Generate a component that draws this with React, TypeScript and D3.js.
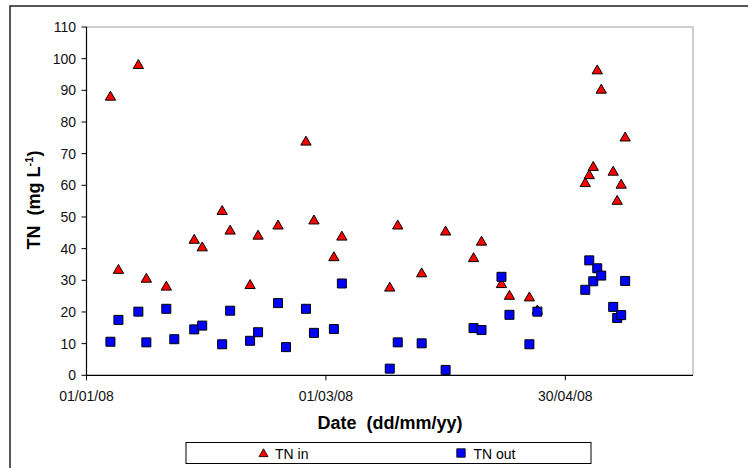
import React from "react";
import * as d3 from "d3";

// ---- data ----
const tnInDates = [
  "2008-01-07", "2008-01-09", "2008-01-14", "2008-01-16", "2008-01-21",
  "2008-01-28", "2008-01-30", "2008-02-04", "2008-02-06", "2008-02-11",
  "2008-02-13", "2008-02-18", "2008-02-25", "2008-02-27", "2008-03-03",
  "2008-03-05", "2008-03-17", "2008-03-19", "2008-03-25", "2008-03-31",
  "2008-04-07", "2008-04-09", "2008-04-14", "2008-04-16", "2008-04-21",
  "2008-04-23", "2008-05-05", "2008-05-06", "2008-05-07", "2008-05-08",
  "2008-05-09", "2008-05-12", "2008-05-13", "2008-05-14", "2008-05-15",
];
const tnInValues = [
  88, 33.3, 98, 30.5, 28,
  42.8, 40.4, 51.9, 45.7, 28.5,
  44.1, 47.3, 73.8, 48.9, 37.3,
  43.8, 27.7, 47.3, 32.2, 45.4,
  37.0, 42.2, 28.8, 25.1, 24.6,
  20.5, 60.7, 63.2, 65.8, 96.3,
  90.2, 64.3, 55.1, 60.2, 75.1,
];

const tnOutDates = [
  "2008-01-07", "2008-01-09", "2008-01-14", "2008-01-16", "2008-01-21",
  "2008-01-23", "2008-01-28", "2008-01-30", "2008-02-04", "2008-02-06",
  "2008-02-11", "2008-02-13", "2008-02-18", "2008-02-20", "2008-02-25",
  "2008-02-27", "2008-03-03", "2008-03-05", "2008-03-17", "2008-03-19",
  "2008-03-25", "2008-03-31", "2008-04-07", "2008-04-09", "2008-04-14",
  "2008-04-16", "2008-04-21", "2008-04-23", "2008-05-05", "2008-05-06",
  "2008-05-07", "2008-05-08", "2008-05-09", "2008-05-12", "2008-05-13",
  "2008-05-14", "2008-05-15",
];
const tnOutValues = [
  10.6, 17.5, 20.1, 10.4, 21.0,
  11.4, 14.5, 15.7, 9.8, 20.4,
  10.9, 13.6, 22.8, 8.9, 21.0,
  13.4, 14.6, 29.0, 2.1, 10.4,
  10.1, 1.7, 14.9, 14.3, 31.1,
  19.1, 9.8, 20.1, 27.0, 36.3,
  29.7, 33.8, 31.5, 21.6, 18.1,
  19.0, 29.8,
];

const xDomain = ["2008-01-01", "2008-06-01"];
const xTickDates = ["2008-01-01", "2008-03-01", "2008-04-30"];
const yTicks = [0, 10, 20, 30, 40, 50, 60, 70, 80, 90, 100, 110];
const seriesNames = ["TN in", "TN out"];

const W = 748;
const H = 468;
const plot = { left: 86.5, right: 693, top: 27, bottom: 375.3 };
const FONT = "Arial, 'Liberation Sans', Helvetica, sans-serif";

export default function App() {
  const parse = d3.timeParse("%Y-%m-%d");
  const fmt = d3.timeFormat("%d/%m/%y");
  const x = d3
    .scaleTime()
    .domain(xDomain.map((d) => parse(d) as Date))
    .range([plot.left, plot.right]);
  const y = d3.scaleLinear().domain([0, 110]).range([plot.bottom, plot.top]);

  const tri = d3.symbol().type(d3.symbolTriangle).size(46)() as string;
  const sq = d3.symbol().type(d3.symbolSquare).size(81)() as string;
  const triL = d3.symbol().type(d3.symbolTriangle).size(36)() as string;
  const sqL = d3.symbol().type(d3.symbolSquare).size(72)() as string;

  const inPts = tnInDates.map((d, i) => ({ x: x(parse(d) as Date), y: y(tnInValues[i]) }));
  const outPts = tnOutDates.map((d, i) => ({ x: x(parse(d) as Date), y: y(tnOutValues[i]) }));

  const yTitleX = 40;
  const yTitleY = 200;

  return (
    <svg
      width={W}
      height={H}
      style={{ position: "absolute", left: 0, top: 0, background: "#fff" }}
      fontFamily={FONT}
    >
      <rect x={0} y={0} width={W} height={H} fill="#fff" />
      {/* outer chart frame (right/bottom outside view) */}
      <rect x={10} y={6} width={W + 20} height={H + 20} fill="none" stroke="#222" strokeWidth={1.5} />

      {/* plot area top/right border */}
      <path
        d={`M${plot.left},${plot.top}H${plot.right}V${plot.bottom}`}
        fill="none"
        stroke="#c0c0c0"
        strokeWidth={1.5}
      />

      {/* y axis */}
      <line x1={plot.left} x2={plot.left} y1={plot.top} y2={plot.bottom} stroke="#000" strokeWidth={1.2} />
      {yTicks.map((t) => (
        <g key={t}>
          <line x1={plot.left - 5} x2={plot.left} y1={y(t)} y2={y(t)} stroke="#000" strokeWidth={1} />
          <text x={76} y={y(t)} dy="0.36em" textAnchor="end" fontSize={14} fill="#111">
            {t}
          </text>
        </g>
      ))}

      {/* x axis */}
      <line x1={plot.left} x2={plot.right} y1={plot.bottom} y2={plot.bottom} stroke="#000" strokeWidth={1.2} />
      {xTickDates.map((d) => {
        const px = x(parse(d) as Date);
        return (
          <g key={d}>
            <line x1={px} x2={px} y1={plot.bottom} y2={plot.bottom + 5} stroke="#000" strokeWidth={1} />
            <text x={px} y={400.5} textAnchor="middle" fontSize={14} fill="#111">
              {fmt(parse(d) as Date)}
            </text>
          </g>
        );
      })}

      {/* axis titles */}
      <text x={390} y={429.3} textAnchor="middle" fontSize={18} fontWeight="bold" fill="#000">
        Date{"\u00a0\u00a0"}(dd/mm/yy)
      </text>
      <text
        transform={`translate(${yTitleX},${yTitleY}) rotate(-90)`}
        textAnchor="middle"
        fontSize={18}
        fontWeight="bold"
        fill="#000"
      >
        TN{"\u00a0\u00a0"}(mg L
        <tspan fontSize={11} dy={-7}>-1</tspan>
        <tspan dy={7}>)</tspan>
      </text>

      {/* series */}
      {inPts.map((p, i) => (
        <path key={"i" + i} d={tri} transform={`translate(${p.x},${p.y + 0.5})`} fill="#ff0000" stroke="#000" strokeWidth={1} />
      ))}
      {outPts.map((p, i) => (
        <path key={"o" + i} d={sq} transform={`translate(${p.x},${p.y})`} fill="#0000ff" stroke="#000" strokeWidth={1} />
      ))}

      {/* legend */}
      <rect x={186} y={442.5} width={405} height={21} fill="#fff" stroke="#000" strokeWidth={1} />
      <path d={triL} transform="translate(263.5,454)" fill="#ff0000" stroke="#000" strokeWidth={0.8} />
      <text x={275} y={459} fontSize={14} fill="#000">{seriesNames[0]}</text>
      <path d={sqL} transform="translate(461,453)" fill="#0000ff" stroke="#000" strokeWidth={0.8} />
      <text x={473.5} y={459} fontSize={14} fill="#000">{seriesNames[1]}</text>
    </svg>
  );
}
